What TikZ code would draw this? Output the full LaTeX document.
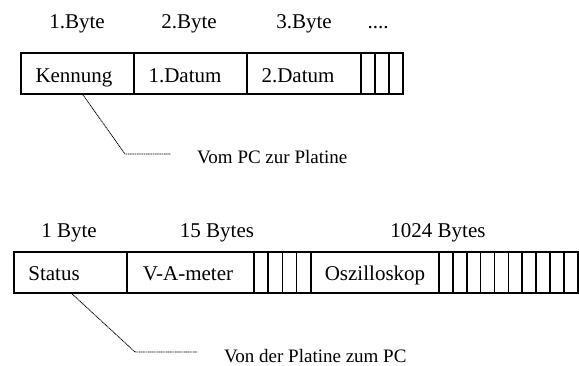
\documentclass[tikz,border=0pt]{standalone}
\usepackage{fontspec}
\setmainfont{Liberation Serif}
\usetikzlibrary{calc}
\tikzset{
  cell/.style={draw, line width=1.7pt, inner sep=0pt, minimum height=41pt, anchor=north west},
  lbl/.style={inner sep=0pt, anchor=base, font=\fontsize{21}{24}\selectfont},
  captiontext/.style={inner sep=0pt, anchor=base west, font=\fontsize{19}{22}\selectfont},
  leader/.style={line width=0.8pt, dash pattern=on 1.2pt off 0.6pt}
}
\begin{document}
\begin{tikzpicture}[x=1pt,y=-1pt]
\useasboundingbox (0,0) rectangle (579,365);
% ---- top frame ----
\node[cell, minimum width=113pt] (t1) at (20,52) {};
\node[cell, minimum width=113pt] (t2) at (133,52) {};
\node[cell, minimum width=114pt] (t3) at (246,52) {};
\foreach \i/\x in {1/360,2/374,3/388}
  \node[cell, minimum width=14pt] (ts\i) at (\x,52) {};
\node[lbl] (hb1) at (77,28) {1.Byte};
\node[lbl] (hb2) at (189,28) {2.Byte};
\node[lbl] (hb3) at (304,28) {3.Byte};
\node[lbl] (hb4) at (378,28) {....};
\node[lbl] (kennung) at (74,82) {Kennung};
\node[lbl] (datum1) at (185,82) {1.Datum};
\node[lbl] (datum2) at (298,82) {2.Datum};
\node[captiontext] (captop) at (197,163) {Vom PC zur Platine};
\coordinate (tbend) at (125,154);
\coordinate (tend) at (171,154);
\draw[leader] ([xshift=5.5pt]t1.south) -- (tbend) -- (tend);
% ---- bottom frame ----
\node[cell, minimum width=113pt] (b1) at (13,251) {};
\node[cell, minimum width=127pt] (b2) at (126,251) {};
\foreach \i in {0,...,3}
  \node[cell, minimum width=14.25pt] (bs\i) at ({253+14.25*\i},251) {};
\node[cell, minimum width=128pt] (b3) at (310,251) {};
\foreach \i in {0,...,9}
  \node[cell, minimum width=13.9pt] (bt\i) at ({438+13.9*\i},251) {};
\node[lbl] (lb1) at (69,237) {1 Byte};
\node[lbl] (lb2) at (217,237) {15 Bytes};
\node[lbl] (lb3) at (438,237) {1024 Bytes};
\node[lbl] (status) at (54,280) {Status};
\node[lbl] (vameter) at (188,280) {V-A-meter};
\node[lbl] (oszi) at (375,280) {Oszilloskop};
\node[captiontext] (capbot) at (224,362) {Von der Platine zum PC};
\coordinate (bbend) at (135,352);
\coordinate (bend) at (197,352);
\draw[leader] ([xshift=1.5pt]b1.south) -- (bbend) -- (bend);
\end{tikzpicture}
\end{document}
